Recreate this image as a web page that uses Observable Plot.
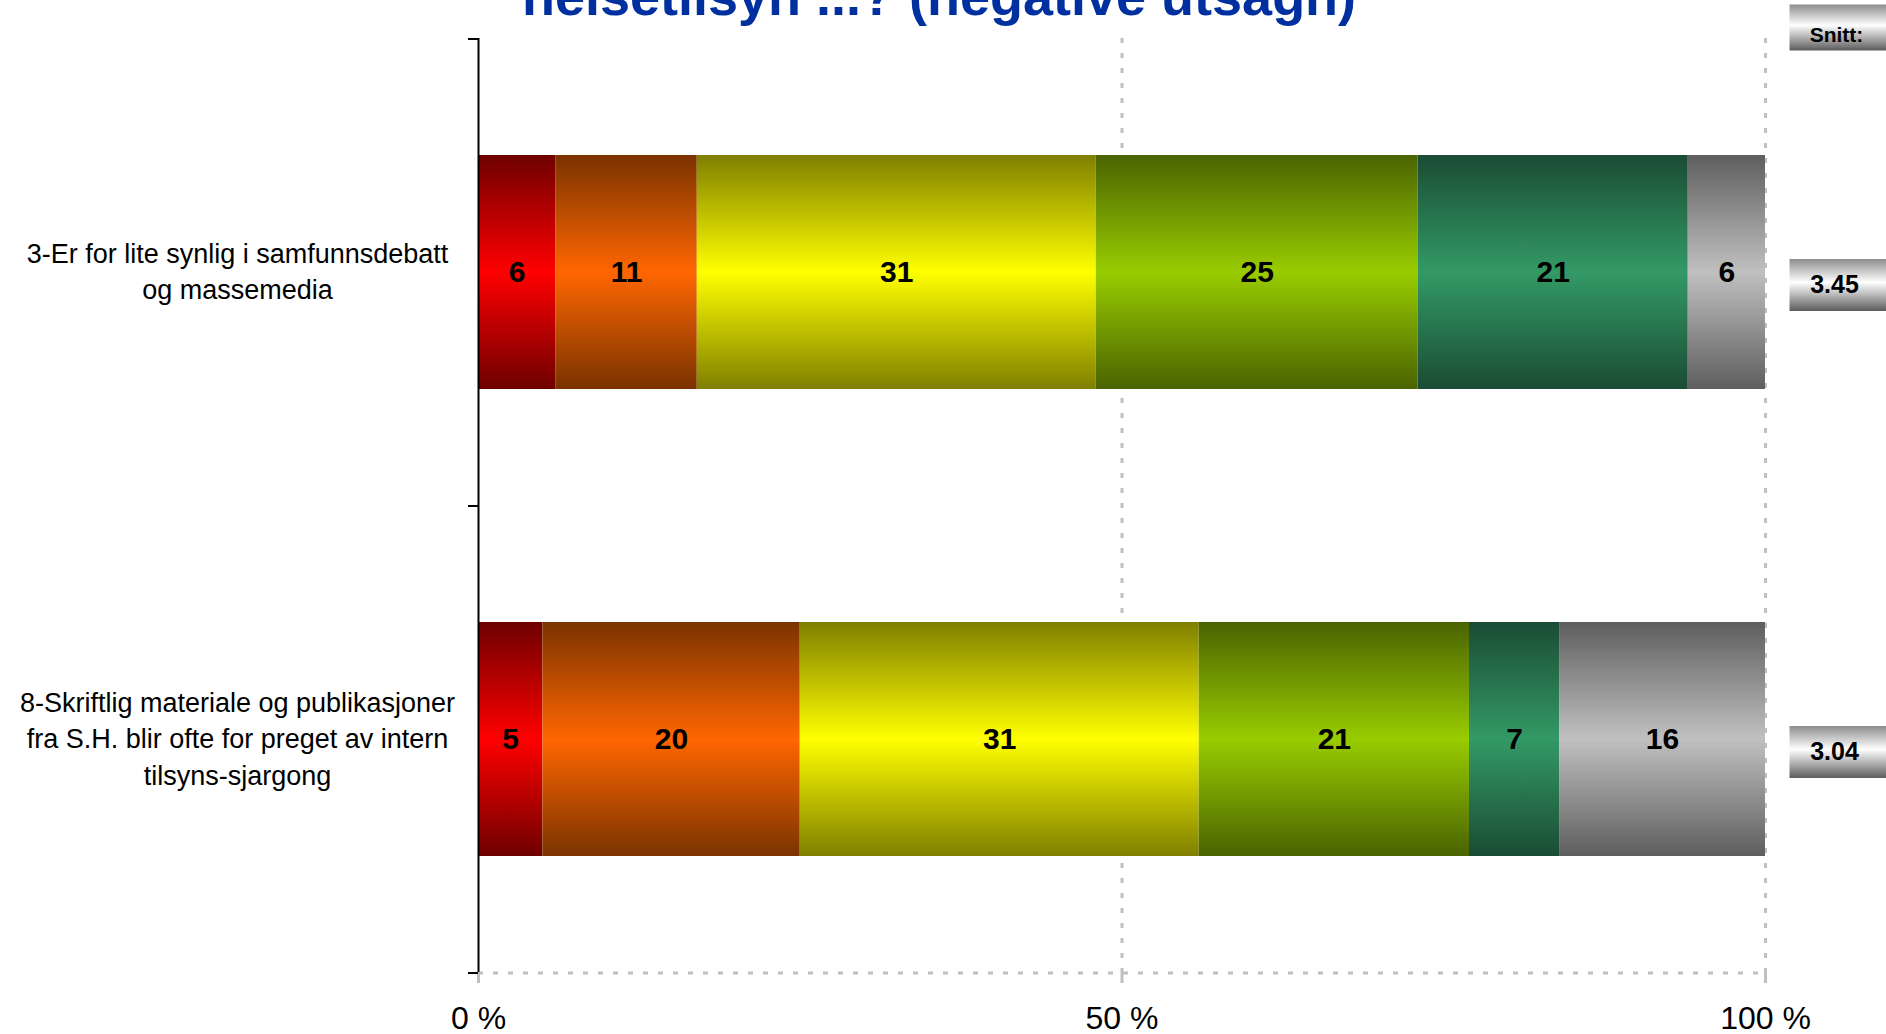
<!DOCTYPE html>
<html>
<head>
<meta charset="utf-8">
<script src="https://cdn.jsdelivr.net/npm/d3@7"></script>
<script src="https://cdn.jsdelivr.net/npm/@observablehq/plot@0.6"></script>
<style>
  html, body { margin: 0; padding: 0; background: #fff; overflow: hidden; }
  #wrap { position: relative; width: 1886px; height: 1034px; }
  #title { position: absolute; left: 0; width: 1878px; top: -31px; text-align: center;
    font: bold 54px/54px "Liberation Sans", Arial, sans-serif; color: #0030a0; white-space: nowrap; }
</style>
</head>
<body>
<div id="wrap">
  <div id="chart"></div>
  <div id="title">helsetilsyn ...? (negative utsagn)</div>
</div>
<script>
// ---- data ----
const categories = [
  "3-Er for lite synlig i samfunnsdebatt\nog massemedia",
  "8-Skriftlig materiale og publikasjoner\nfra S.H. blir ofte for preget av intern\ntilsyns-sjargong"
];
const seriesNames = ["1", "2", "3", "4", "5", "Vet ikke"];
const valuesCat1 = [6, 11, 31, 25, 21, 6];
const valuesCat2 = [5, 20, 31, 21, 7, 16];
const means = [3.45, 3.04];
const meanHeader = ["Snitt:"];
const xTicks = [0, 50, 100];

// ---- styles ----
const paletteMid  = ["#ff0000", "#ff6600", "#ffff00", "#99cc00", "#339966", "#c0c0c0"];
const paletteEdge = ["#6e0000", "#7a3300", "#7f7f00", "#4a6300", "#1a4c33", "#5e5e5e"];

const valuesByCat = [valuesCat1, valuesCat2];
const rows = categories.flatMap((c, i) =>
  seriesNames.map((s, k) => ({cat: c, series: s, k, value: valuesByCat[i][k]})));

const W = 1886, H = 1034, mT = 38, mB = 62, mL = 478, mR = 121;
const half = (H - mT - mB) / categories.length / 2;

const valueBox = {draw(ctx) { ctx.rect(-50.5, -26, 101, 52); }};
const headerBox = {draw(ctx) { ctx.rect(-50.5, -23, 101, 46); }};

const plot = Plot.plot({
  width: W, height: H,
  marginTop: mT, marginBottom: mB, marginLeft: mL, marginRight: mR,
  x: {domain: [0, 100], axis: null, label: null},
  y: {domain: categories, paddingInner: 0.5, paddingOuter: 0.25, axis: null, label: null},
  color: {type: "identity"},
  style: {fontFamily: '"Liberation Sans", Arial, sans-serif', background: "white", overflow: "visible"},
  marks: [
    Plot.ruleX(xTicks.slice(1), {stroke: "#c0c0c0", strokeWidth: 3, strokeDasharray: "5 10"}),
    Plot.barX(rows, Plot.stackX({x: "value", y: "cat", fill: d => `url(#seg${d.k})`})),
    Plot.text(rows, Plot.stackX({x: "value", y: "cat", text: d => String(d.value),
      fontSize: 30, fontWeight: "bold", fill: "black"})),
    Plot.ruleY([categories[categories.length - 1]], {y: d => d, x1: 0, x2: 100, dy: half,
      stroke: "#c0c0c0", strokeWidth: 3, strokeDasharray: "5 10"}),
    Plot.axisX({ticks: xTicks, tickFormat: d => `${d} %`, tickSize: 11, tickPadding: 23, label: null,
      fontSize: 32, stroke: "#c0c0c0", strokeWidth: 3, fill: "black"}),
    Plot.ruleX([0], {stroke: "black", strokeWidth: 2}),
    Plot.ruleY(categories, {y: d => d, x1: 0, x2: 0, insetLeft: -10, dy: -half, stroke: "black", strokeWidth: 2}),
    Plot.ruleY([categories[categories.length - 1]], {y: d => d, x1: 0, x2: 0, insetLeft: -10, dy: half, stroke: "black", strokeWidth: 2}),
    Plot.text(categories, {y: d => d, text: d => d, frameAnchor: "left", dx: -241, dy: -3, textAnchor: "middle",
      fontSize: 27, lineHeight: 1.35, fill: "black", ariaLabel: "ylabels"}),
    Plot.dot(means, {y: (d, i) => categories[i], frameAnchor: "right", dx: 74.5, dy: 12.5,
      symbol: valueBox, r: 5, fill: "url(#snitt)"}),
    Plot.text(means, {y: (d, i) => categories[i], text: d => d.toFixed(2), frameAnchor: "right",
      textAnchor: "middle", dx: 69, dy: 12, fontSize: 25, fontWeight: "bold", fill: "black"}),
    Plot.dot(meanHeader, {frameAnchor: "top-right", dx: 74.5, dy: -11, symbol: headerBox, r: 5, fill: "url(#snitt)"}),
    Plot.text(meanHeader, {frameAnchor: "top-right", text: d => d, textAnchor: "middle", dx: 71, dy: -11,
      fontSize: 21, fontWeight: "bold", fill: "black"})
  ]
});

const defs = d3.select(plot).insert("defs", ":first-child");
paletteMid.forEach((m, k) => {
  const g = defs.append("linearGradient").attr("id", `seg${k}`)
    .attr("x1", 0).attr("y1", 0).attr("x2", 0).attr("y2", 1);
  g.append("stop").attr("offset", "0%").attr("stop-color", paletteEdge[k]);
  g.append("stop").attr("offset", "50%").attr("stop-color", m);
  g.append("stop").attr("offset", "100%").attr("stop-color", paletteEdge[k]);
});
const sg = defs.append("linearGradient").attr("id", "snitt")
  .attr("x1", 0).attr("y1", 0).attr("x2", 0).attr("y2", 1);
[["0%", "#8c8c8c"], ["45%", "#ffffff"], ["100%", "#5c5c5c"]].forEach(([o, c]) =>
  sg.append("stop").attr("offset", o).attr("stop-color", c));

d3.select(plot).select('g[aria-label="ylabels"]').attr("letter-spacing", "0.4px");

document.getElementById("chart").appendChild(plot);
</script>
</body>
</html>
